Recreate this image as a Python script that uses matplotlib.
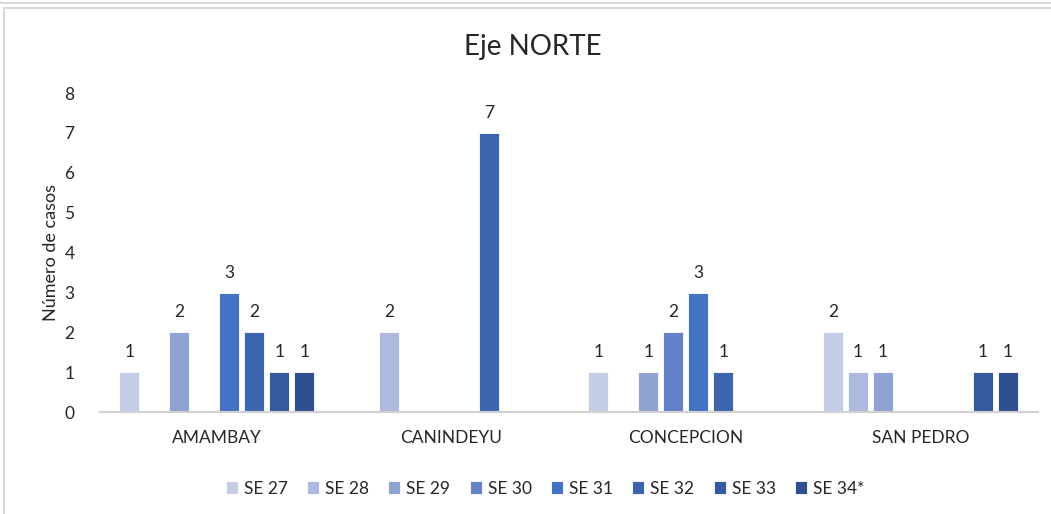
import matplotlib
matplotlib.use("Agg")
import matplotlib.pyplot as plt
import numpy as np

plt.rcParams["font.family"] = ["Lato", "DejaVu Sans"]

DEPTOS = ["AMAMBAY", "CANINDEYU", "CONCEPCION", "SAN PEDRO"]
SEMANAS = ["SE 27", "SE 28", "SE 29", "SE 30", "SE 31", "SE 32", "SE 33", "SE 34*"]
# casos por semana (filas) y departamento (columnas)
SE27 = [1, 0, 1, 2]
SE28 = [0, 2, 0, 1]
SE29 = [2, 0, 1, 1]
SE30 = [0, 0, 2, 0]
SE31 = [3, 0, 3, 0]
SE32 = [2, 7, 1, 0]
SE33 = [1, 0, 0, 1]
SE34 = [1, 0, 0, 1]
COLORES = ["#C5CCE6", "#ADB9DE", "#8FA3D3", "#6482C8", "#4472C4", "#3D65AE", "#355A9E", "#2F4F8C"]

series = [SE27, SE28, SE29, SE30, SE31, SE32, SE33, SE34]

fig = plt.figure(figsize=(10.51, 5.14), dpi=100)
ax = fig.add_axes([0.0947, 0.198, 0.8925, 0.621])

x = np.arange(len(DEPTOS))
step, w = 0.1066, 0.085
for i, (vals, lab, col) in enumerate(zip(series, SEMANAS, COLORES)):
    pos = x + (i - 3.5) * step
    bars = ax.bar(pos, vals, width=w, color=col, label=lab, edgecolor="white", linewidth=0.6)
    for b, v in zip(bars, vals):
        if v > 0:
            ax.text(b.get_x() + b.get_width() / 2, v + 0.3, str(v), ha="center", va="bottom",
                    fontsize=12.5, color="#262626")

ax.set_xlim(-0.5, 3.5)
ax.set_ylim(0, 8)
ax.set_yticks(range(9))
ax.set_xticks(x)
ax.set_xticklabels(DEPTOS)
ax.tick_params(axis="both", length=0, labelsize=12.5, colors="#262626")
ax.tick_params(axis="y", pad=18)
ax.tick_params(axis="x", pad=13)
for s in ["top", "right", "left"]:
    ax.spines[s].set_visible(False)
ax.spines["bottom"].set_color("#D0D0D0")
ax.spines["bottom"].set_linewidth(1.5)
ax.set_ylabel("Número de casos", fontsize=13, color="#262626", labelpad=4)

fig.text(0.507, 0.908, "Eje NORTE", ha="center", va="center", fontsize=20, color="#262626")

ax.legend(loc="upper center", bbox_to_anchor=(0.475, -0.165), ncol=8, frameon=False,
          fontsize=12.5, handlelength=0.7, handleheight=0.7, handletextpad=0.35, columnspacing=1.1,
          labelcolor="#262626")

# marco del gráfico
fig.patches.append(plt.Rectangle((0.004, -0.02), 1.2, 1.004, transform=fig.transFigure,
                                 fill=False, edgecolor="#D9D9D9", linewidth=1.5))
fig.patches.append(plt.Rectangle((-0.1, 0.994), 1.2, 0.1, transform=fig.transFigure,
                                 fill=False, edgecolor="#D9D9D9", linewidth=1.5))

fig.savefig("out.png", dpi=100)
